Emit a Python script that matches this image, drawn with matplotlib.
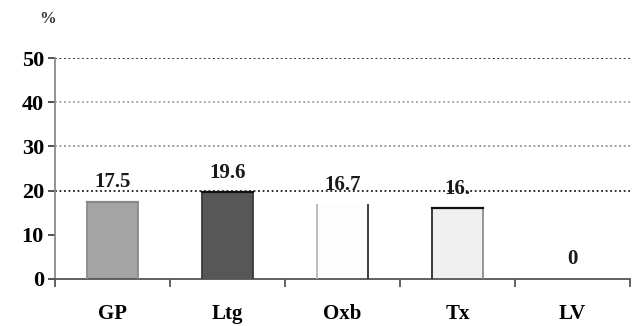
import matplotlib.pyplot as plt
from matplotlib.ticker import FixedLocator, NullFormatter

plt.rcParams['font.family'] = ['Liberation Serif', 'DejaVu Serif']
plt.rcParams['font.weight'] = 'bold'

# Share of patients (%) per drug
drugs = ['GP', 'Ltg', 'Oxb', 'Tx', 'LV']
percent = [17.5, 19.6, 16.7, 16, 0]
value_labels = ['17.5', '19.6', '16.7', '16.', '0']
y_ticks = [0, 10, 20, 30, 40, 50]

fills = ['#a4a4a4', '#575757', '#fdfdfd', '#f0f0f0', '#ffffff']
left_edges = ['#8a8a8a', '#3a3a3a', '#b5b5b5', '#2a2a2a', None]
right_edges = ['#8a8a8a', '#3a3a3a', '#2e2e2e', '#8c8c8c', None]
top_edges = ['#8a8a8a', '#111111', None, '#111111', None]

fig = plt.figure(figsize=(6.32, 3.26), dpi=100)
ax = fig.add_axes([55 / 632, 1 - 279 / 326, 575 / 632, 221 / 326])

x = list(range(len(drugs)))
bars = ax.bar(x, percent, width=0.45, color=fills, linewidth=0, zorder=2)

# draw each bar's outline side by side so edges can differ
for b, le, re, te in zip(bars, left_edges, right_edges, top_edges):
    x0, w, h = b.get_x(), b.get_width(), b.get_height()
    if h <= 0:
        continue
    if le:
        ax.plot([x0, x0], [0, h], color=le, lw=1.3, zorder=3)
    if re:
        ax.plot([x0 + w, x0 + w], [0, h], color=re, lw=1.3, zorder=3)
    if te:
        ax.plot([x0, x0 + w], [h, h], color=te, lw=1.6, zorder=3)

# dotted reference lines
grid_levels = [20, 30, 40, 50]
grid_colors = ['#1e1e1e', '#8e8e8e', '#a0a0a0', '#1e1e1e']
for lvl, c in zip(grid_levels, grid_colors):
    ax.axhline(lvl, color=c, lw=1.3, ls=(0, (1, 1.5)), zorder=1)

for xi, v, lab in zip(x, percent, value_labels):
    ax.annotate(lab, (xi, v), xytext=(0, 7), textcoords='offset points',
                ha='center', va='bottom', fontsize=15, fontweight='bold',
                color='#1a1a1a', zorder=4)

ax.set_xlim(-0.5, len(drugs) - 0.5)
ax.set_ylim(0, 50)
ax.set_yticks(y_ticks)
ax.set_yticklabels([str(t) for t in y_ticks])

ax.xaxis.set_major_locator(FixedLocator([i - 0.5 for i in range(len(drugs) + 1)]))
ax.xaxis.set_major_formatter(NullFormatter())
ax.xaxis.set_minor_locator(FixedLocator(x))
ax.set_xticklabels(drugs, minor=True)
ax.tick_params(axis='x', which='major', direction='out', length=6, width=1.3, color='#555555')
ax.tick_params(axis='x', which='minor', length=0, pad=18, labelsize=15)
ax.tick_params(axis='y', direction='out', length=5, width=1.3, color='#444444',
               pad=3, labelsize=16)

for s in ['top', 'right']:
    ax.spines[s].set_visible(False)
ax.spines['left'].set_color('#8a8a8a')
ax.spines['left'].set_linewidth(1.3)
ax.spines['bottom'].set_color('#555555')
ax.spines['bottom'].set_linewidth(1.3)

fig.text(48 / 632, 1 - 19 / 326, '%', ha='center', va='center', fontsize=12,
         fontweight='bold', color='#333333')

fig.savefig('out.png', dpi=100)
